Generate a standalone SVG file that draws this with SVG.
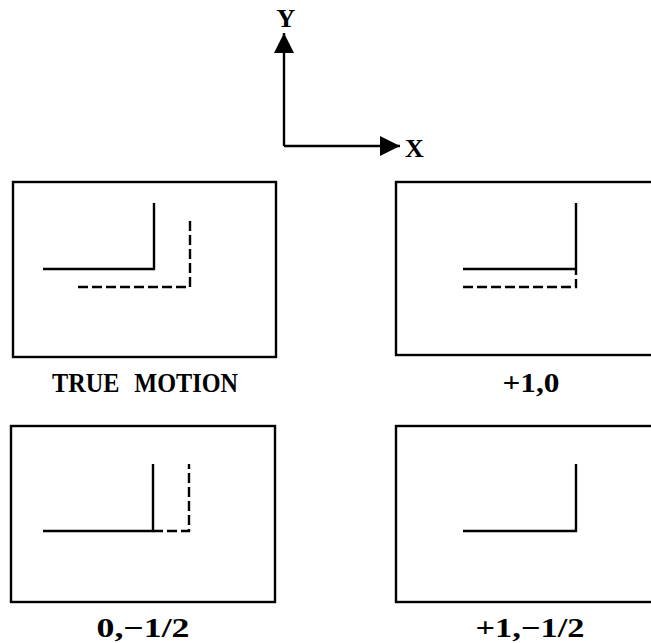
<svg xmlns="http://www.w3.org/2000/svg" width="651" height="643" viewBox="0 0 651 643">
  <style>
    .frame { fill: none; stroke: #000; stroke-width: 2.4; }
    .solid { fill: none; stroke: #000; stroke-width: 2.4; }
    .dash { fill: none; stroke: #000; stroke-width: 2.4; stroke-dasharray: 10 4; }
    .lbl { font-family: "Liberation Serif", "Times New Roman", serif; font-weight: bold; font-size: 27px; fill: #000; text-anchor: middle; }
    .axis { font-family: "Liberation Serif", "Times New Roman", serif; font-weight: bold; font-size: 26px; fill: #000; }
  </style>
  <defs>
    <marker id="arrow" viewBox="0 0 20 20" refX="20" refY="10" markerWidth="20" markerHeight="20" markerUnits="userSpaceOnUse" orient="auto">
      <path d="M0,0 L20,10 L0,20 Z" fill="#000"/>
    </marker>
  </defs>

  <!-- coordinate axes -->
  <g id="connectors">
    <line x1="284" y1="146" x2="284" y2="33" stroke="#000" stroke-width="2.4" marker-end="url(#arrow)"/>
    <line x1="284" y1="146" x2="400" y2="146" stroke="#000" stroke-width="2.4" marker-end="url(#arrow)"/>
  </g>
  <g id="axis-labels">
    <text class="axis" x="286" y="27" text-anchor="middle">Y</text>
    <text class="axis" x="405" y="157">X</text>
  </g>

  <!-- true motion -->
  <g id="true-motion">
    <rect class="frame" x="13" y="182" width="263" height="175"/>
    <polyline class="solid" points="43,269 154,269 154,203"/>
    <polyline class="dash" points="78,287 190,287 190,221"/>
    <text class="lbl" x="145" y="392" textLength="186" lengthAdjust="spacingAndGlyphs" style="word-spacing:10px">TRUE MOTION</text>
  </g>

  <!-- estimate +1,0 -->
  <g id="est-1-0">
    <rect class="frame" x="396" y="182" width="270" height="173"/>
    <polyline class="solid" points="463,269 576,269"/>
    <line class="solid" x1="576" y1="203" x2="576" y2="275"/>
    <polyline class="dash" points="463,287 576,287 576,279"/>
    <text class="lbl" x="531" y="392" textLength="57" lengthAdjust="spacingAndGlyphs">+1,0</text>
  </g>

  <!-- estimate 0,-1/2 -->
  <g id="est-0-half">
    <rect class="frame" x="11" y="426" width="264" height="176"/>
    <polyline class="solid" points="43,531 153,531 153,464"/>
    <polyline class="dash" points="153,531 189,531 189,464"/>
    <text class="lbl" x="143" y="637" textLength="93" lengthAdjust="spacingAndGlyphs">0,−1/2</text>
  </g>

  <!-- estimate +1,-1/2 -->
  <g id="est-1-half">
    <rect class="frame" x="396" y="426" width="270" height="176"/>
    <polyline class="solid" points="463,531 576,531 576,464"/>
    <text class="lbl" x="530" y="637" textLength="109" lengthAdjust="spacingAndGlyphs">+1,−1/2</text>
  </g>
</svg>
